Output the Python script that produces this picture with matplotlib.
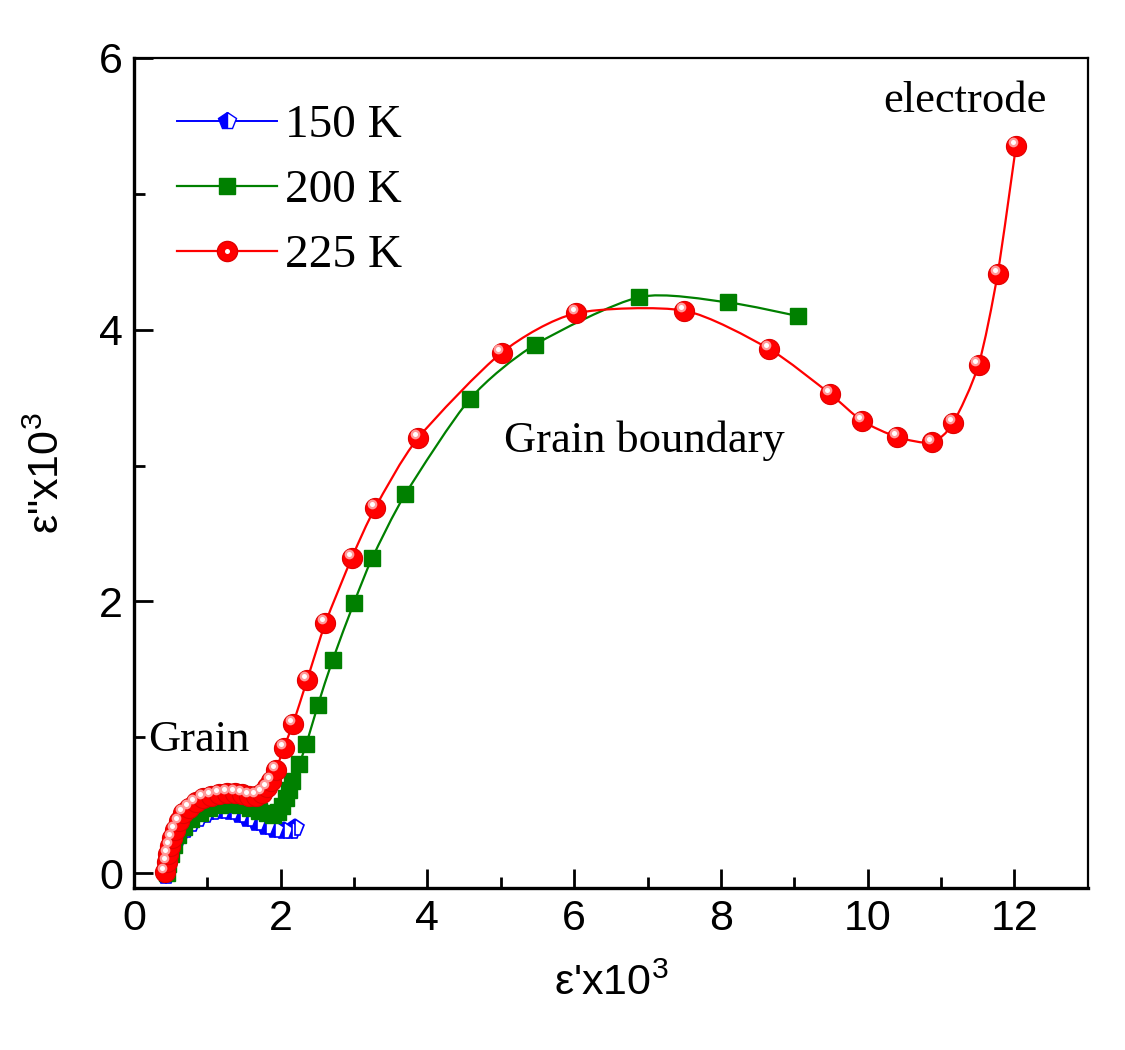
import numpy as np
import matplotlib
matplotlib.use('Agg')
import matplotlib.pyplot as plt
from matplotlib.path import Path
from matplotlib.patches import PathPatch
from matplotlib.lines import Line2D
from matplotlib.legend_handler import HandlerTuple
import matplotlib.transforms as mtransforms

# --- data (eps' x10^3, eps'' x10^3) ---
x_150 = [0.44, 0.46, 0.48, 0.52, 0.57, 0.63, 0.70, 0.78, 0.87, 0.97, 1.08,
         1.20, 1.32, 1.44, 1.56, 1.68, 1.80, 1.92, 2.04, 2.15, 2.20]
y_150 = [-0.02, 0.05, 0.12, 0.18, 0.23, 0.28, 0.32, 0.36, 0.40, 0.43, 0.45,
         0.46, 0.45, 0.43, 0.40, 0.37, 0.34, 0.32, 0.31, 0.31, 0.33]

x_200 = [0.45, 0.47, 0.50, 0.54, 0.60, 0.68, 0.78, 0.90, 1.03, 1.17, 1.31,
         1.45, 1.58, 1.70, 1.81, 1.90, 1.97, 2.02, 2.07, 2.11, 2.16, 2.25,
         2.35, 2.51, 2.71, 3.00, 3.25, 3.70, 4.58, 5.47, 6.89, 8.10, 9.05]
y_200 = [0.00, 0.07, 0.14, 0.21, 0.28, 0.34, 0.40, 0.44, 0.48, 0.50, 0.51,
         0.50, 0.48, 0.46, 0.44, 0.43, 0.45, 0.49, 0.55, 0.61, 0.68, 0.80,
         0.95, 1.24, 1.57, 1.99, 2.32, 2.79, 3.49, 3.89, 4.24, 4.20, 4.10]

x_225 = [0.43, 0.45, 0.47, 0.49, 0.52, 0.56, 0.61, 0.67, 0.75, 0.84, 0.94,
         1.05, 1.16, 1.27, 1.38, 1.48, 1.57, 1.66, 1.74, 1.81, 1.87, 1.94,
         2.04, 2.17, 2.36, 2.61, 2.97, 3.29, 3.87, 5.01, 6.02, 7.50, 8.65,
         9.48, 9.92, 10.40, 10.87, 11.16, 11.51, 11.77, 12.02]
y_225 = [0.01, 0.08, 0.14, 0.20, 0.26, 0.32, 0.38, 0.44, 0.48, 0.52, 0.55,
         0.57, 0.58, 0.59, 0.59, 0.58, 0.57, 0.57, 0.59, 0.63, 0.68, 0.76,
         0.92, 1.10, 1.42, 1.84, 2.32, 2.69, 3.20, 3.83, 4.12, 4.14, 3.86,
         3.53, 3.33, 3.21, 3.17, 3.31, 3.74, 4.41, 5.35]

labels = ['150 K', '200 K', '225 K']

SANS = ['Liberation Sans Narrow', 'Liberation Sans', 'DejaVu Sans']
SERIF = ['Liberation Serif', 'DejaVu Serif']
plt.rcParams['font.family'] = SANS
plt.rcParams['mathtext.fontset'] = 'custom'
plt.rcParams['mathtext.rm'] = 'Liberation Sans'
plt.rcParams['mathtext.default'] = 'rm'


# smooth connecting line (bezier through the measured points, like Origin's spline line)
def smooth_path(x, y, k=8.0):
    pts = np.column_stack([x, y])
    n = len(pts)
    verts = [pts[0]]
    codes = [Path.MOVETO]
    for i in range(n - 1):
        p0 = pts[max(i - 1, 0)]
        p1 = pts[i]
        p2 = pts[i + 1]
        p3 = pts[min(i + 2, n - 1)]
        verts += [p1 + (p2 - p0) / k, p2 - (p3 - p1) / k, p2]
        codes += [Path.CURVE4] * 3
    return Path(verts, codes)


fig = plt.figure(figsize=(11.25, 10.5), dpi=100)
ax = fig.add_axes([0.119, 0.1543, 0.848, 0.7905])

# 150 K - blue half filled pentagons
ax.add_patch(PathPatch(smooth_path(x_150, y_150), fill=False, ec='#0000ff', lw=1.4, zorder=2))
ax.plot(x_150, y_150, ls='none', marker='p', ms=13, fillstyle='left',
        mfc='#0000ff', mfcalt='white', mec='#0000ff', mew=1.2, zorder=2.1)

# 200 K - green squares
ax.add_patch(PathPatch(smooth_path(x_200, y_200), fill=False, ec='#008000', lw=1.6, zorder=3))
ax.plot(x_200, y_200, ls='none', marker='s', ms=12, color='#008000', zorder=3.1)

# 225 K - red balls with a highlight
ax.add_patch(PathPatch(smooth_path(x_225, y_225), fill=False, ec='#ff0000', lw=1.6, zorder=4))
ax.plot(x_225, y_225, ls='none', marker='o', ms=14.5, mfc='#ff0000', mec='#e00000', mew=0.8, zorder=4.1)
shift = mtransforms.offset_copy(ax.transData, fig=fig, x=-2.2, y=2.8, units='points')
ax.plot(x_225, y_225, ls='none', marker='o', ms=7, mfc='#ff9a9a', mec='none', transform=shift, zorder=4.2)
ax.plot(x_225, y_225, ls='none', marker='o', ms=3.6, mfc='white', mec='none', transform=shift, zorder=4.3)

ax.set_xlim(0, 13)
ax.set_ylim(-0.11, 6.0)
ax.set_xticks([0, 2, 4, 6, 8, 10, 12])
ax.set_xticks(range(1, 13, 2), minor=True)
ax.set_yticks([0, 2, 4, 6])
ax.set_yticks([1, 3, 5], minor=True)
ax.tick_params(which='both', direction='in', top=False, right=False, width=2, labelsize=31, pad=8)
ax.tick_params(which='major', length=14)
ax.tick_params(which='minor', length=8)
for side in ['left', 'bottom']:
    ax.spines[side].set_linewidth(2.4)
for side in ['top', 'right']:
    ax.spines[side].set_linewidth(1.6)

ax.set_xlabel("ε'x10$^{3}$", fontsize=31, labelpad=18)
ax.set_ylabel('ε"x10$^{3}$', fontsize=31, labelpad=22)

# legend
h150 = Line2D([], [], color='#0000ff', lw=1.4, marker='p', ms=13, fillstyle='left',
              mfc='#0000ff', mfcalt='white', mec='#0000ff')
h200 = Line2D([], [], color='#008000', lw=1.6, marker='s', ms=12, mfc='#008000', mec='#008000')
h225a = Line2D([], [], color='#ff0000', lw=1.6, marker='o', ms=14.5, mfc='#ff0000', mec='#e00000')
h225b = Line2D([], [], ls='none', marker='o', ms=3.6, mfc='white', mec='none')
ax.legend([h150, h200, (h225a, h225b)], labels,
          handler_map={tuple: HandlerTuple(ndivide=1, pad=0)},
          loc='upper left', bbox_to_anchor=(0.045, 0.944), frameon=False,
          prop={'family': SERIF, 'size': 34}, handlelength=2.12, handletextpad=0.17,
          labelspacing=0.46, borderaxespad=0, borderpad=0)

ax.text(0.89, 0.98, 'Grain', family=SERIF, fontsize=32, ha='center', va='center')
ax.text(6.96, 3.18, 'Grain boundary', family=SERIF, fontsize=32, ha='center', va='center')
ax.text(11.32, 5.68, 'electrode', family=SERIF, fontsize=32, ha='center', va='center')

fig.savefig('out.png', dpi=100)
